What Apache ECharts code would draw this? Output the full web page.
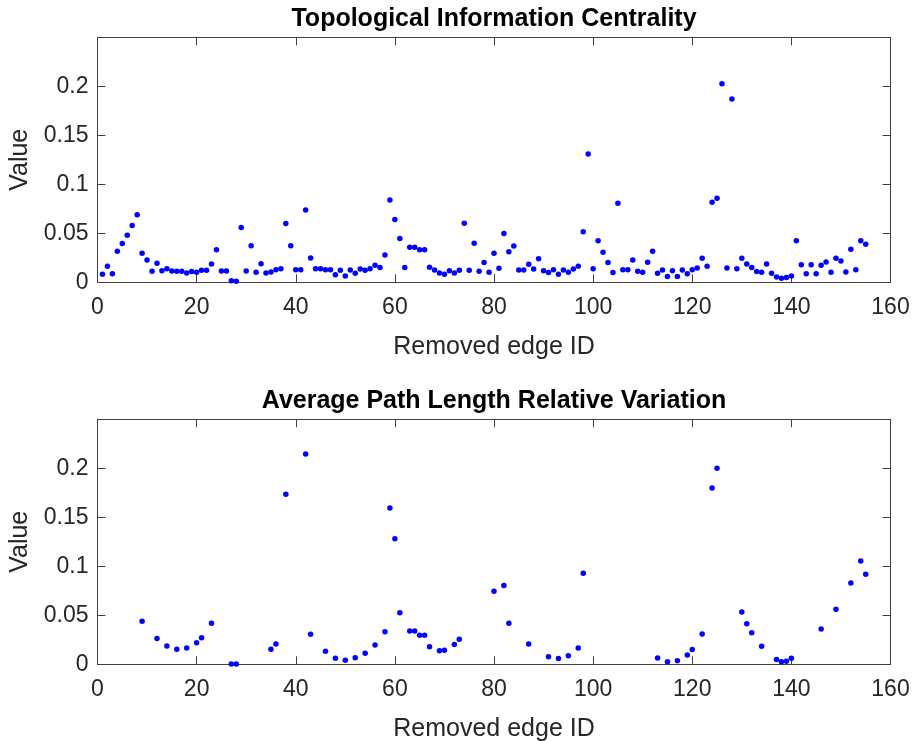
<!DOCTYPE html>
<html>
<head>
<meta charset="utf-8">
<script src="https://cdn.jsdelivr.net/npm/echarts@6/dist/echarts.min.js"></script>
<style>
html,body{margin:0;padding:0;background:#fff;}
#chart{width:915px;height:741px;}
</style>
</head>
<body>
<div id="chart"></div>
<script>
// Top chart: Topological Information Centrality, removed edge IDs 1..155
const ticValues = [
0.0082,0.0163,0.0088,0.0316,0.0395,0.048,0.058,0.069,0.0296,0.0228,
0.0112,0.0194,0.0119,0.0139,0.0116,0.0112,0.0112,0.0095,0.0109,0.0102,
0.0122,0.0122,0.0187,0.0333,0.0116,0.0116,0.0017,0.001,0.056,0.0116,
0.0374,0.0102,0.019,0.0095,0.0105,0.0129,0.0139,0.0599,0.0374,0.0129,
0.0129,0.0738,0.0248,0.0139,0.0139,0.0129,0.0129,0.0078,0.0122,0.0065,
0.0126,0.0092,0.0136,0.0122,0.0139,0.0173,0.015,0.0279,0.084,0.064,
0.0446,0.015,0.0357,0.0357,0.0333,0.0333,0.0153,0.0126,0.0095,0.0082,
0.0119,0.0095,0.0122,0.0602,0.0122,0.0398,0.0112,0.0201,0.0102,0.0296,
0.0143,0.0497,0.0313,0.0371,0.0126,0.0126,0.0184,0.0136,0.0241,0.0119,
0.0099,0.0129,0.0082,0.0126,0.0102,0.0136,0.0163,0.0517,0.131,0.0139,
0.0425,0.0306,0.0201,0.0099,0.0806,0.0129,0.0129,0.0228,0.0112,0.0102,
0.0204,0.0316,0.0092,0.0126,0.0058,0.0119,0.0058,0.0126,0.0088,0.0129,
0.0146,0.0245,0.0163,0.0816,0.0857,0.2027,0.0146,0.187,0.0139,0.0245,
0.0187,0.015,0.0109,0.0102,0.0187,0.0092,0.0054,0.0041,0.0048,0.0065,
0.0425,0.018,0.0088,0.018,0.0088,0.0173,0.0207,0.0102,0.0245,0.0218,
0.0105,0.0337,0.0129,0.0425,0.0388
];
const ticIds = ticValues.map((v, i) => i + 1);

// Bottom chart: Average Path Length Relative Variation
const aplIds = [9,12,14,16,18,20,21,23,27,28,35,36,38,42,43,46,48,50,52,54,56,58,59,60,61,63,64,65,66,67,69,70,72,73,80,82,83,87,91,93,95,97,98,113,115,117,119,120,122,124,125,130,131,132,134,137,138,139,140,146,149,152,154,155];
const aplValues = [0.0439,0.0262,0.0187,0.0153,0.0167,0.0221,0.0272,0.0418,0.0003,0.0003,0.0153,0.0207,0.1735,0.2146,0.0306,0.0133,0.0061,0.0041,0.0068,0.0112,0.0197,0.0333,0.1595,0.1282,0.0527,0.034,0.034,0.0296,0.0296,0.018,0.0139,0.0143,0.0201,0.0255,0.0745,0.0803,0.0418,0.0207,0.0078,0.0058,0.0088,0.0167,0.0929,0.0065,0.0027,0.0037,0.0095,0.015,0.031,0.180,0.2,0.0534,0.0415,0.0323,0.0184,0.0048,0.0027,0.0031,0.0061,0.0361,0.0561,0.083,0.1054,0.0918];

const titles = ['Topological Information Centrality', 'Average Path Length Relative Variation'];
const xName = 'Removed edge ID';
const yName = 'Value';
const xTicks = {min: 0, max: 160, interval: 20};
const yTicks = {min: 0, max: 0.25, interval: 0.05};

const FONT = 'Arial, "Liberation Sans", Helvetica, sans-serif';
const AX = '#404040';
const gridTops = [37.3, 419.3];

const chart = echarts.init(document.getElementById('chart'));

const grids = gridTops.map(t => ({left: 97.5, top: t, width: 793, height: 245, containLabel: false, outerBoundsMode: 'none'}));
const xAxes = [], yAxes = [], series = [], titleOpts = [];

gridTops.forEach((t, g) => {
  titleOpts.push({
    text: titles[g], left: 494, top: t - 31, textAlign: 'center', padding: 0,
    textStyle: {fontFamily: FONT, fontSize: 25, fontWeight: 'bold', color: '#000'}
  });
  xAxes.push({
    gridIndex: g, type: 'value', position: 'bottom', min: xTicks.min, max: xTicks.max, interval: xTicks.interval,
    name: xName, nameLocation: 'middle', nameGap: 52,
    nameTextStyle: {fontFamily: FONT, fontSize: 25, color: '#262626'},
    axisLine: {show: true, onZero: false, lineStyle: {color: AX, width: 1}},
    axisTick: {show: true, inside: true, length: 8, lineStyle: {color: AX}},
    axisLabel: {fontFamily: FONT, fontSize: 23, color: '#262626', margin: 14},
    splitLine: {show: false}
  });
  xAxes.push({
    gridIndex: g, type: 'value', position: 'top', min: xTicks.min, max: xTicks.max, interval: xTicks.interval,
    axisLine: {show: true, onZero: false, lineStyle: {color: AX, width: 1}},
    axisTick: {show: true, inside: true, length: 8, lineStyle: {color: AX}},
    axisLabel: {show: false}, splitLine: {show: false}
  });
  yAxes.push({
    gridIndex: g, type: 'value', position: 'left', min: yTicks.min, max: yTicks.max, interval: yTicks.interval,
    name: yName, nameLocation: 'middle', nameGap: 65, nameRotate: 90,
    nameTextStyle: {fontFamily: FONT, fontSize: 25, color: '#262626'},
    axisLine: {show: true, onZero: false, lineStyle: {color: AX, width: 1}},
    axisTick: {show: true, inside: true, length: 8, lineStyle: {color: AX}},
    axisLabel: {fontFamily: FONT, fontSize: 23, color: '#262626', margin: 9, showMaxLabel: false},
    splitLine: {show: false}
  });
  yAxes.push({
    gridIndex: g, type: 'value', position: 'right', min: yTicks.min, max: yTicks.max, interval: yTicks.interval,
    axisLine: {show: true, onZero: false, lineStyle: {color: AX, width: 1}},
    axisTick: {show: true, inside: true, length: 8, lineStyle: {color: AX}},
    axisLabel: {show: false}, splitLine: {show: false}
  });
});

series.push({
  type: 'scatter', xAxisIndex: 0, yAxisIndex: 0, symbol: 'circle', symbolSize: 5.5,
  itemStyle: {color: '#0000ff', opacity: 1}, clip: false,
  data: ticIds.map((id, i) => [id, ticValues[i]])
});
series.push({
  type: 'scatter', xAxisIndex: 2, yAxisIndex: 2, symbol: 'circle', symbolSize: 5.5,
  itemStyle: {color: '#0000ff', opacity: 1}, clip: false,
  data: aplIds.map((id, i) => [id, aplValues[i]])
});

chart.setOption({
  animation: false,
  backgroundColor: '#fff',
  title: titleOpts,
  grid: grids,
  xAxis: xAxes,
  yAxis: yAxes,
  series: series
});
</script>
</body>
</html>
